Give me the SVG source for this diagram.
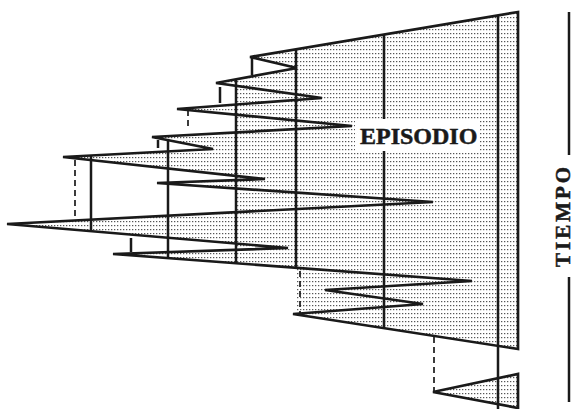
<svg xmlns="http://www.w3.org/2000/svg" width="574" height="409" viewBox="0 0 574 409">
  <defs>
    <pattern id="dots" width="3" height="4" patternUnits="userSpaceOnUse">
      <rect width="3" height="4" fill="#ffffff"/>
      <rect x="0" y="1" width="1.3" height="1.2" fill="#555555"/>
    </pattern>
  </defs>
  <style>
    .fill { fill: url(#dots); stroke: none; }
    .edge { fill: none; stroke: #1a1a1a; stroke-width: 2.7; stroke-linejoin: miter; stroke-miterlimit: 3; }
    .vert { stroke: #1a1a1a; stroke-width: 2.5; fill: none; }
    .dash { stroke: #1a1a1a; stroke-width: 1.7; stroke-dasharray: 6 4; fill: none; }
    .lbl { font-family: "Liberation Serif", "Times New Roman", serif; font-weight: bold; fill: #1a1a1a; stroke: #1a1a1a; stroke-width: 0.5; }
  </style>

  <g id="episode-area">
    <polygon class="fill" points="236,79.3 297,68 297,49 518,12 518,349 296,314.5 296,267.8 236,263.3"/>
    <polygon class="fill" points="518,12 250,57 297,68 216,83 322,98 177,109 352,126 152,137 213,149 63,157 265,179 157,183 433,202 7,224 288,248 113,254 472,281 325,290 423,304 293,314 518,349"/>
  </g>

  <g id="small-triangle">
    <polygon class="fill" points="433,392 518,374 518,408"/>
  </g>

  <g id="connectors">
    <line class="vert" x1="91" y1="156" x2="91" y2="230"/>
    <line class="vert" x1="168" y1="139" x2="168" y2="258"/>
    <line class="vert" x1="236" y1="80" x2="236" y2="263"/>
    <line class="vert" x1="296" y1="49" x2="296" y2="268"/>
    <line class="vert" x1="384" y1="34" x2="384" y2="328"/>
    <line class="vert" x1="498" y1="15" x2="498" y2="409"/>
    <line class="vert" x1="252" y1="58" x2="252" y2="75"/>
    <line class="vert" x1="220" y1="87" x2="220" y2="103"/>
    <line class="vert" x1="158" y1="140" x2="158" y2="148"/>
    <line class="vert" x1="131" y1="238" x2="131" y2="252"/>
    <line class="dash" x1="75" y1="160" x2="75" y2="221"/>
    <line class="dash" x1="188" y1="110" x2="188" y2="129"/>
    <line class="dash" x1="300" y1="271" x2="300" y2="313"/>
    <line class="dash" x1="434" y1="337" x2="434" y2="391"/>
  </g>

  <g id="episode-outline">
    <polygon class="edge" points="518,12 250,57 297,68 216,83 322,98 177,109 352,126 152,137 213,149 63,157 265,179 157,183 433,202 7,224 288,248 113,254 472,281 325,290 423,304 293,314 518,349"/>
  </g>

  <g id="small-triangle-outline">
    <polygon class="edge" points="433,392 518,374 518,408"/>
  </g>

  <g id="label-episodio">
    <rect x="355" y="119" width="125" height="32" fill="#ffffff"/>
    <text class="lbl" x="360" y="143.5" font-size="24">EPISODIO</text>
  </g>

  <g id="time-axis">
    <line class="vert" x1="569" y1="12" x2="569" y2="155"/>
    <line class="vert" x1="569" y1="277" x2="569" y2="402"/>
    <text class="lbl" font-size="21" letter-spacing="3" transform="translate(569.5,267) rotate(-90)">TIEMPO</text>
  </g>
</svg>
